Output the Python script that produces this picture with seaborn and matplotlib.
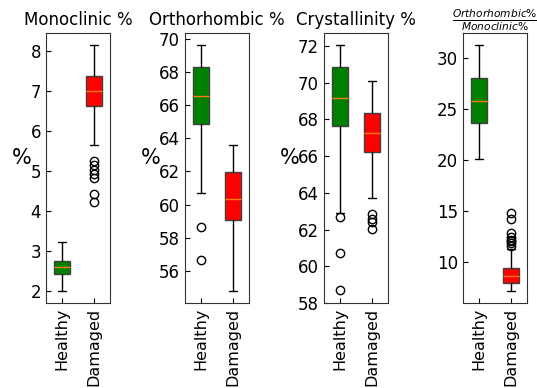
import matplotlib
matplotlib.use("Agg")
import matplotlib.pyplot as plt
from matplotlib.ticker import MultipleLocator
import seaborn as sns
import pandas as pd

# ---- data ----
groups = ["Healthy", "Damaged"]
titles = ["Monoclinic %", "Orthorhombic %", "Crystallinity %",
          r"$\frac{Orthorhombic\%}{Monoclinic\%}$"]
ylabels = ["%", "%", "%", ""]
ytick_steps = [1, 2, 2, 5]

mono_healthy = [2.01, 2.42, 2.60, 2.76, 3.24]
mono_damaged = [4.24, 4.43, 4.82, 4.93, 5.04, 5.15, 5.26,
                5.66, 6.63,
                6.68, 6.72, 6.77, 6.81, 6.86, 6.90, 6.95,
                7.00,
                7.04, 7.09, 7.14, 7.19, 7.24, 7.29, 7.33,
                7.38,
                7.45, 7.53, 7.62, 7.71, 7.82, 7.93, 8.04,
                8.15]

ortho_healthy = [56.66, 58.63, 60.69, 64.85, 65.4, 66.0, 66.56,
                 67.1, 67.7, 68.31, 68.8, 69.2, 69.62]
ortho_damaged = [54.79, 59.06, 60.32, 61.97, 63.62]

cryst_healthy = [58.69, 60.72, 62.71, 62.90, 67.61, 68.0, 68.4, 68.8,
                 69.17, 69.6, 70.0, 70.4, 70.84, 71.1, 71.4, 71.7, 72.04]
cryst_damaged = [62.03, 62.42, 62.57, 62.84, 63.71, 66.20, 66.4, 66.6,
                 66.8, 67.0, 67.25, 67.45, 67.7, 67.9, 68.1, 68.34,
                 68.7, 69.1, 69.5, 69.8, 70.10]

ratio_healthy = [20.10, 23.58, 25.77, 28.01, 31.20]
ratio_damaged = [7.23,
                 7.4, 7.5, 7.6, 7.7, 7.75, 7.8, 7.88, 7.95,
                 8.00,
                 8.07, 8.15, 8.22, 8.3, 8.38, 8.45, 8.52, 8.6,
                 8.66,
                 8.74, 8.82, 8.9, 8.98, 9.06, 9.15, 9.24, 9.33,
                 9.41,
                 11.3,
                 11.62, 11.85, 12.05, 12.2, 12.5, 12.83, 14.2, 14.85]

panels = [(mono_healthy, mono_damaged), (ortho_healthy, ortho_damaged),
          (cryst_healthy, cryst_damaged), (ratio_healthy, ratio_damaged)]

# ---- style ----
sns.set_style("ticks", {"xtick.direction": "in", "ytick.direction": "in",
                        "axes.edgecolor": "0.2", "text.color": "black",
                        "xtick.color": "black", "ytick.color": "black",
                        "axes.labelcolor": "black"})
plt.rcParams["font.family"] = ["DejaVu Sans"]

fig, axes = plt.subplots(1, 4, figsize=(5.37, 3.88), dpi=100)
fig.subplots_adjust(left=0.0857, right=0.981, top=0.915, bottom=0.219,
                    wspace=1.172)

for i, (ax, (h, d), title, yl, step) in enumerate(
        zip(axes, panels, titles, ylabels, ytick_steps)):
    df = pd.DataFrame({
        "group": [groups[0]] * len(h) + [groups[1]] * len(d),
        "value": list(h) + list(d),
    })
    sns.boxplot(data=df, x="group", y="value", hue="group",
                order=groups, hue_order=groups,
                palette=["green", "red"], saturation=1, width=0.5,
                linecolor="black", linewidth=1, legend=False,
                fliersize=6,
                flierprops=dict(marker="o", markerfacecolor="none",
                                markeredgecolor="black"),
                boxprops=dict(edgecolor="0.25"),
                medianprops=dict(color="#ff7f0e", linewidth=1),
                ax=ax)
    ax.set_title(title, fontsize=12 if not title.startswith("$") else 11,
                 color="black")
    ax.set_xlabel("")
    ax.set_ylabel(yl, fontsize=15, rotation=0, labelpad=6)
    ax.yaxis.set_major_locator(MultipleLocator(step))
    ax.tick_params(axis="y", labelsize=12, direction="in")
    ax.tick_params(axis="x", labelsize=11.5, direction="in", labelrotation=90)
    ax.margins(y=0.05)
    if i == 2:
        ax.set_ylim(58, 72.7)

fig.savefig("out.png", dpi=100)
